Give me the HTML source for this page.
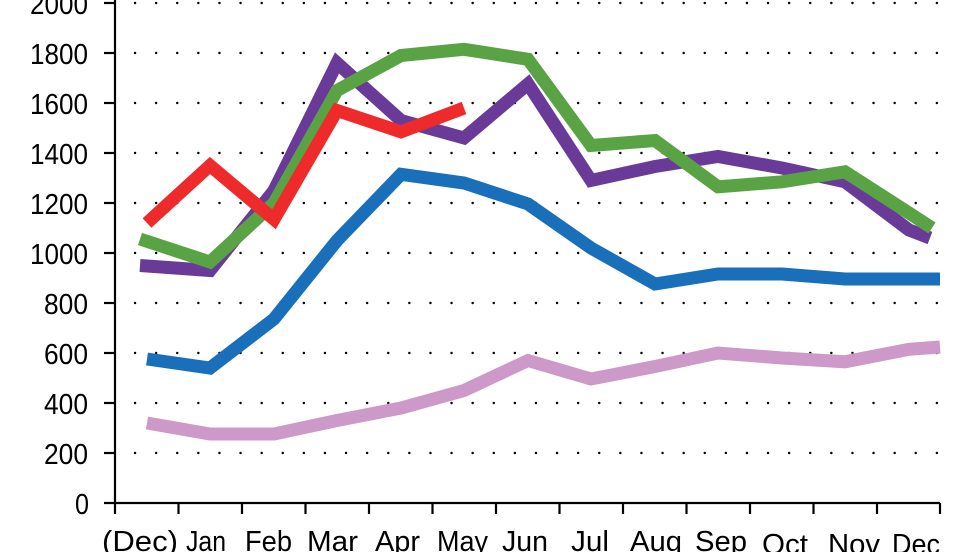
<!DOCTYPE html><html><head><style>body{margin:0;background:#fff}svg{display:block}text{font-family:"Liberation Sans",sans-serif;font-size:29px;fill:#000}</style></head><body>
<svg width="980" height="552" viewBox="0 0 980 552">
<g stroke="#000" stroke-width="2.4" stroke-dasharray="0.1 21" stroke-linecap="round">
<line x1="135" y1="453" x2="940" y2="453"/><line x1="135" y1="403" x2="940" y2="403"/><line x1="135" y1="353" x2="940" y2="353"/><line x1="135" y1="303" x2="940" y2="303"/><line x1="135" y1="253" x2="940" y2="253"/><line x1="135" y1="203" x2="940" y2="203"/><line x1="135" y1="153" x2="940" y2="153"/><line x1="135" y1="103" x2="940" y2="103"/><line x1="135" y1="53" x2="940" y2="53"/><line x1="135" y1="3" x2="940" y2="3"/>
</g>
<g fill="none" stroke-width="13" stroke-linejoin="miter" stroke-miterlimit="3">
<polyline stroke="#cc99c9" points="147,423 210,434 274,434 337,420.5 401,408 464,390.5 528,360.5 591,379 655,366.5 718,353 782,358 845,361.8 909,349.3 940,347"/>
<polyline stroke="#1a6fba" points="147,359 210,368 274,319 337,240.5 401,174.3 464,183 528,204 591,248 655,284 718,274 782,274 845,279 909,279 940,279"/>
<polyline stroke="#6a3a98" points="140,265.5 210,270.5 274,190.5 337,63 401,120.5 464,138 528,84 591,180.5 655,166.5 718,156.5 782,168 845,181.8 909,230 930,238"/>
<polyline stroke="#5aa345" points="140,239 210,262 274,203 337,90.5 401,55.5 464,49.3 528,59.3 591,145.5 655,140.5 718,186.8 782,181.8 845,171.8 909,213 932,228"/>
<polyline stroke="#ee2a2a" points="147,223 210,165.5 274,219.3 337,110.5 401,131.8 464,108"/>
</g>
<g stroke="#000" stroke-width="2.2" fill="none">
<line x1="115" y1="0" x2="115" y2="514"/><line x1="104" y1="503" x2="940" y2="503"/>
<line x1="104" y1="453" x2="115" y2="453"/><line x1="104" y1="403" x2="115" y2="403"/><line x1="104" y1="353" x2="115" y2="353"/><line x1="104" y1="303" x2="115" y2="303"/><line x1="104" y1="253" x2="115" y2="253"/><line x1="104" y1="203" x2="115" y2="203"/><line x1="104" y1="153" x2="115" y2="153"/><line x1="104" y1="103" x2="115" y2="103"/><line x1="104" y1="53" x2="115" y2="53"/><line x1="104" y1="3" x2="115" y2="3"/>
<line x1="178.5" y1="503" x2="178.5" y2="514"/><line x1="242" y1="503" x2="242" y2="514"/><line x1="305.5" y1="503" x2="305.5" y2="514"/><line x1="369" y1="503" x2="369" y2="514"/><line x1="432.5" y1="503" x2="432.5" y2="514"/><line x1="496" y1="503" x2="496" y2="514"/><line x1="559.5" y1="503" x2="559.5" y2="514"/><line x1="623" y1="503" x2="623" y2="514"/><line x1="686.5" y1="503" x2="686.5" y2="514"/><line x1="750" y1="503" x2="750" y2="514"/><line x1="813.5" y1="503" x2="813.5" y2="514"/><line x1="877" y1="503" x2="877" y2="514"/><line x1="940" y1="503" x2="940" y2="514"/>
</g>
<g lengthAdjust="spacingAndGlyphs">
<text x="75" y="514" textLength="14" lengthAdjust="spacingAndGlyphs">0</text>
<text x="44" y="464" textLength="44" lengthAdjust="spacingAndGlyphs">200</text><text x="44" y="414" textLength="44" lengthAdjust="spacingAndGlyphs">400</text><text x="44" y="364" textLength="44" lengthAdjust="spacingAndGlyphs">600</text><text x="44" y="314" textLength="44" lengthAdjust="spacingAndGlyphs">800</text>
<text x="30" y="264" textLength="58" lengthAdjust="spacingAndGlyphs">1000</text><text x="30" y="214" textLength="58" lengthAdjust="spacingAndGlyphs">1200</text><text x="30" y="164" textLength="58" lengthAdjust="spacingAndGlyphs">1400</text><text x="30" y="114" textLength="58" lengthAdjust="spacingAndGlyphs">1600</text><text x="30" y="64" textLength="58" lengthAdjust="spacingAndGlyphs">1800</text><text x="30" y="14" textLength="58" lengthAdjust="spacingAndGlyphs">2000</text>
<text x="102" y="551" textLength="76" lengthAdjust="spacingAndGlyphs">(Dec)</text>
<text x="186" y="551" textLength="40" lengthAdjust="spacingAndGlyphs">Jan</text>
<text x="245" y="551" textLength="47" lengthAdjust="spacingAndGlyphs">Feb</text>
<text x="307" y="551" textLength="51" lengthAdjust="spacingAndGlyphs">Mar</text>
<text x="375" y="551" textLength="45" lengthAdjust="spacingAndGlyphs">Apr</text>
<text x="437" y="551" textLength="51" lengthAdjust="spacingAndGlyphs">May</text>
<text x="502" y="551" textLength="46" lengthAdjust="spacingAndGlyphs">Jun</text>
<text x="571" y="551" textLength="38" lengthAdjust="spacingAndGlyphs">Jul</text>
<text x="630" y="551" textLength="52" lengthAdjust="spacingAndGlyphs">Aug</text>
<text x="695" y="551" textLength="52" lengthAdjust="spacingAndGlyphs">Sep</text>
<text x="762" y="554" textLength="46" lengthAdjust="spacingAndGlyphs">Oct</text>
<text x="828" y="554" textLength="52" lengthAdjust="spacingAndGlyphs">Nov</text>
<text x="892" y="554" textLength="48" lengthAdjust="spacingAndGlyphs">Dec</text>
</g>
</svg></body></html>
